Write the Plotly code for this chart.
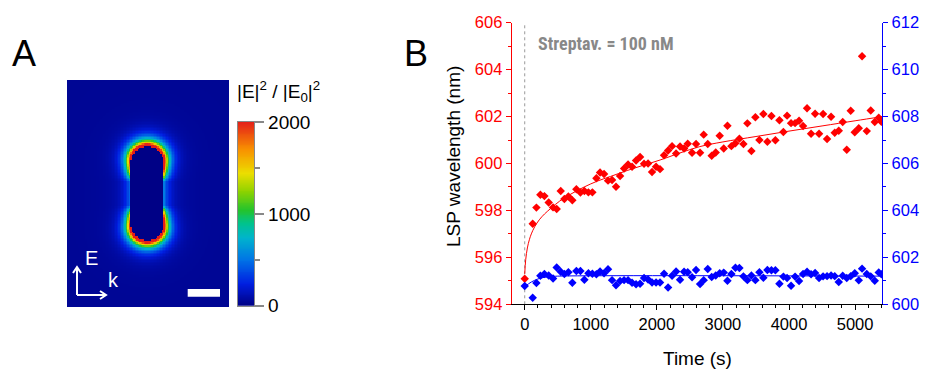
import numpy as np
import plotly.graph_objects as go

W, H = 931, 369
FONT = "Liberation Sans, Arial, sans-serif"

# ---------------- Panel B data ----------------
time_s = [0, 121, 177, 237, 298, 363, 429, 484, 545, 600,
          661, 721, 782, 843, 903, 964, 1024, 1085, 1140, 1201,
          1261, 1322, 1382, 1443, 1504, 1564, 1625, 1685, 1746, 1806,
          1867, 1927, 1988, 2048, 2109, 2170, 2230, 2291, 2351, 2412,
          2467, 2533, 2593, 2654, 2709, 2770, 2830, 2891, 2951, 3012,
          3068, 3128, 3189, 3249, 3310, 3370, 3431, 3491, 3552, 3612,
          3673, 3734, 3794, 3855, 3915, 3971, 4031, 4092, 4152, 4213,
          4273, 4334, 4395, 4455, 4516, 4576, 4637, 4692, 4753, 4813,
          4874, 4934, 4995, 5056, 5106, 5177, 5237, 5298, 5358, 5398]

red_lsp = [595.09, 597.43, 598.12, 598.67, 598.61, 598.34, 598.13, 598.06, 598.83, 598.49,
           598.59, 598.43, 598.90, 598.76, 598.83, 598.77, 598.77, 599.37, 599.62, 599.55,
           599.27, 599.30, 599.01, 599.47, 599.79, 599.96, 599.86, 600.13, 600.28, 599.99,
           600.00, 599.64, 599.86, 599.76, 600.35, 600.55, 600.74, 600.43, 600.72, 600.64,
           600.84, 600.46, 600.83, 600.46, 601.23, 600.83, 600.33, 600.47, 601.18, 600.64,
           601.61, 600.74, 600.86, 601.06, 600.83, 601.71, 600.53, 601.97, 601.00, 602.11,
           600.93, 602.02, 600.99, 601.84, 601.34, 602.04, 601.72, 601.72, 601.82, 601.60,
           602.35, 601.27, 602.12, 601.27, 602.11, 601.04, 601.99, 601.31, 601.40, 601.77,
           600.59, 602.25, 601.33, 601.50, 604.57, 601.38, 602.26, 601.77, 601.95, 601.78]

blue_lsp = [600.78, 600.28, 600.91, 601.22, 601.29, 601.23, 601.10, 601.57, 601.39, 601.29,
            601.37, 600.92, 601.42, 601.42, 601.05, 601.32, 601.30, 601.28, 601.40, 601.32,
            601.49, 601.03, 600.81, 600.99, 601.03, 601.03, 600.92, 600.85, 600.88, 601.12,
            601.06, 600.93, 600.93, 600.93, 601.30, 600.72, 601.22, 601.40, 601.05, 601.39,
            601.37, 601.15, 601.46, 600.86, 601.03, 601.50, 601.16, 601.23, 601.32, 601.35,
            601.00, 601.29, 601.56, 601.55, 601.19, 601.03, 601.23, 601.03, 601.37, 601.13,
            601.46, 601.45, 601.45, 600.88, 601.18, 601.12, 600.79, 601.18, 600.99, 601.29,
            601.39, 601.28, 601.33, 601.12, 601.19, 601.20, 601.23, 601.20, 600.95, 601.22,
            601.12, 601.20, 601.32, 601.02, 601.52, 601.29, 601.19, 601.00, 601.36, 601.28]

fit_time = [0, 15, 40, 70, 100, 150, 220, 300, 400, 530, 700, 900, 1100, 1300, 1550,
            1800, 2050, 2350, 2650, 3000, 3500, 4000, 4500, 5000, 5412]
red_fit = [595.3, 595.9, 596.4, 596.75, 597.0, 597.3, 597.6, 597.85, 598.1, 598.4, 598.7,
           599.0, 599.25, 599.45, 599.7, 599.93, 600.15, 600.45, 600.72, 600.92, 601.15,
           601.38, 601.6, 601.82, 602.0]
blue_fit_time = [0, 100, 200, 300, 400, 500, 5412]
blue_fit = [600.75, 600.95, 601.08, 601.15, 601.18, 601.2, 601.2]

time_ticks = [0, 1000, 2000, 3000, 4000, 5000]
left_ticks = [594, 596, 598, 600, 602, 604, 606]
right_ticks = [600, 602, 604, 606, 608, 610, 612]
cbar_ticks = [0, 1000, 2000]
cbar_minor = [500, 1500]

# ---------------- Panel A field-map model parameters (image pixels) ----------------
NX, NY, CELL = 108, 151, 1.5
ROD_CX, ROD_CY = 80.0, 113.3
ROD_R, ROD_HALF = 16.5, 30.5
ANG_HALF = 12.0
PEAK, SIDE, DECAY = 3000.0, 0.15, 5.5
HALO, HALO_DECAY = 55.0, 22.0
BACK, INSIDE = 45.0, 10.0
ZMAX = 2000

xs = (np.arange(NX) + 0.5) * CELL - ROD_CX
ys = (np.arange(NY) + 0.5) * CELL - ROD_CY
X, Y = np.meshgrid(xs, ys)
dy = Y - np.clip(Y, -ROD_HALF, ROD_HALF)
dist = np.hypot(X, dy) - ROD_R
dy2 = Y - np.clip(Y, -ANG_HALF, ANG_HALF)
cosang = np.abs(dy2) / np.maximum(np.hypot(X, dy2), 1e-6)
dpos = np.maximum(dist, 0)
field = BACK + HALO * np.exp(-dpos / HALO_DECAY) + PEAK * (SIDE + (1 - SIDE) * cosang) * np.exp(-dpos / DECAY)
field = np.where(dist < 0, INSIDE, field)
field = np.minimum(field, ZMAX)

cbar_levels = np.linspace(0, ZMAX, 201)

colorscale = [[0.0, "rgb(0,0,130)"], [0.12, "rgb(0,30,225)"], [0.25, "rgb(0,115,230)"],
              [0.37, "rgb(0,180,205)"], [0.45, "rgb(0,195,140)"], [0.52, "rgb(35,195,45)"],
              [0.62, "rgb(140,210,0)"], [0.72, "rgb(235,222,0)"], [0.85, "rgb(248,145,0)"],
              [1.0, "rgb(228,30,25)"]]


def px(x):
    return x / W


def py(y):
    return 1 - y / H


fig = go.Figure()

fig.add_trace(go.Heatmap(
    z=field, zmin=0, zmax=ZMAX, colorscale=colorscale, zsmooth=False,
    xaxis="x", yaxis="y", hoverinfo="skip", showscale=False))

# colour bar drawn as its own heatmap
fig.add_trace(go.Heatmap(
    z=cbar_levels.reshape(-1, 1), x=[0], y=cbar_levels, zmin=0, zmax=ZMAX,
    colorscale=colorscale, zsmooth=False, xaxis="x3", yaxis="y4",
    hoverinfo="skip", showscale=False))

fig.add_trace(go.Scatter(x=time_s, y=red_lsp, mode="markers", xaxis="x2", yaxis="y2",
                         marker=dict(symbol="diamond", size=6.5, color="#ff0000"), showlegend=False))
fig.add_trace(go.Scatter(x=fit_time, y=red_fit, mode="lines", xaxis="x2", yaxis="y2",
                         line=dict(color="#ff0000", width=1, shape="spline"), showlegend=False))
fig.add_trace(go.Scatter(x=time_s, y=blue_lsp, mode="markers", xaxis="x2", yaxis="y3",
                         marker=dict(symbol="diamond", size=6.5, color="#0000ff"), showlegend=False))
fig.add_trace(go.Scatter(x=blue_fit_time, y=blue_fit, mode="lines", xaxis="x2", yaxis="y3",
                         line=dict(color="#0000ff", width=1, shape="spline"), showlegend=False))

tickfont_b = dict(family=FONT, size=16.5)

fig.update_layout(
    width=W, height=H, margin=dict(l=0, r=0, t=0, b=0, autoexpand=False),
    paper_bgcolor="white", plot_bgcolor="white", showlegend=False,
    xaxis=dict(domain=[px(67), px(229)], range=[-0.5, NX - 0.5], visible=False, fixedrange=True),
    yaxis=dict(domain=[py(307), py(80)], range=[NY - 0.5, -0.5], visible=False, fixedrange=True),
    xaxis3=dict(domain=[px(238), px(254.3)], anchor="y4", range=[-0.5, 0.5], showticklabels=False,
                ticks="", showgrid=False, zeroline=False, showline=True, mirror=True,
                linecolor="#888", linewidth=1, automargin=False),
    yaxis4=dict(domain=[py(305.7), py(122)], anchor="x3", side="right", range=[0, ZMAX],
                tickvals=cbar_ticks, ticks="outside", ticklen=9, tickcolor="#888", tickwidth=1.5,
                showgrid=False, zeroline=False, showline=True, mirror=True, linecolor="#888",
                linewidth=1, automargin=False,
                tickfont=dict(family=FONT, size=19, color="black"),
                minor=dict(tickvals=cbar_minor, ticks="outside", ticklen=5, tickcolor="#888", tickwidth=1.5)),
    xaxis2=dict(domain=[px(511.7), px(882.3)], anchor="y2", range=[-197, 5412],
                tickvals=time_ticks, ticks="outside", ticklen=5, tickcolor="black", automargin=False,
                showline=True, linecolor="black", linewidth=1, showgrid=False, zeroline=False,
                tickfont=dict(color="black", **tickfont_b),
                minor=dict(dtick=200, tick0=0, ticks="outside", ticklen=3, tickcolor="black")),
    yaxis2=dict(domain=[py(304.3), py(22.7)], anchor="x2", range=[594, 606], automargin=False,
                tickvals=left_ticks, ticks="outside", ticklen=5, tickcolor="#ff0000",
                showline=True, linecolor="#ff0000", linewidth=1, showgrid=False, zeroline=False,
                tickfont=dict(color="#ff0000", **tickfont_b),
                minor=dict(dtick=1, ticks="outside", ticklen=3, tickcolor="#ff0000")),
    yaxis3=dict(overlaying="y2", anchor="x2", side="right", range=[600, 612], automargin=False,
                tickvals=right_ticks, ticks="outside", ticklen=5, tickcolor="#0000ff",
                showline=True, linecolor="#0000ff", linewidth=1, showgrid=False, zeroline=False,
                tickfont=dict(color="#0000ff", **tickfont_b),
                minor=dict(dtick=1, ticks="outside", ticklen=3, tickcolor="#0000ff")),
)

shapes = []
# dotted line at t = 0
shapes.append(dict(type="line", xref="x2", yref="paper", x0=0, x1=0, y0=py(304.3), y1=py(22.7),
                   line=dict(color="#999999", width=1, dash="dot"), layer="below"))
white = dict(color="white", width=2)
# E / k arrows
shapes.append(dict(type="line", xref="paper", yref="paper", x0=px(77), y0=py(295), x1=px(77), y1=py(268), line=white))
shapes.append(dict(type="path", xref="paper", yref="paper",
                   path=f"M {px(73)},{py(273)} L {px(77)},{py(267)} L {px(81)},{py(273)}", line=white))
shapes.append(dict(type="line", xref="paper", yref="paper", x0=px(77), y0=py(295), x1=px(106), y1=py(295), line=white))
shapes.append(dict(type="path", xref="paper", yref="paper",
                   path=f"M {px(100)},{py(291)} L {px(106)},{py(295)} L {px(100)},{py(299)}", line=white))
# scale bar
shapes.append(dict(type="rect", xref="paper", yref="paper", x0=px(187.7), x1=px(220), y0=py(296.7), y1=py(289),
                   fillcolor="white", line=dict(width=0)))
fig.update_layout(shapes=shapes)

ann = []
ann.append(dict(text="A", x=px(10), y=py(53), xanchor="left", yanchor="middle",
                font=dict(family=FONT, size=36, color="black")))
ann.append(dict(text="B", x=px(402), y=py(53), xanchor="left", yanchor="middle",
                font=dict(family=FONT, size=36, color="black")))
ann.append(dict(text="|E|<sup>2</sup> / |E<sub>0</sub>|<sup>2</sup>", x=px(278), y=py(91),
                xanchor="center", yanchor="middle", font=dict(family=FONT, size=19, color="black")))
ann.append(dict(text="E", x=px(83), y=py(258), xanchor="left", yanchor="middle",
                font=dict(family=FONT, size=20, color="white")))
ann.append(dict(text="k", x=px(106), y=py(280), xanchor="left", yanchor="middle",
                font=dict(family=FONT, size=20, color="white")))
ann.append(dict(text="<b>Streptav. = 100 nM</b>", x=px(536), y=py(44), xanchor="left", yanchor="middle",
                font=dict(family="Liberation Sans Narrow, Roboto Condensed, " + FONT, size=18, color="#888888")))
ann.append(dict(text="LSP wavelength (nm)", x=px(453), y=py(157), xanchor="center", yanchor="middle",
                textangle=-90, font=dict(family=FONT, size=19, color="black")))
ann.append(dict(text="Time (s)", x=px(697), y=py(346), xanchor="center", yanchor="top",
                font=dict(family=FONT, size=19, color="black")))
for a in ann:
    a.update(xref="paper", yref="paper", showarrow=False)
fig.update_layout(annotations=ann)

fig.write_html("out.html", config={"displayModeBar": False},
               post_script="document.body.style.margin='0';document.body.style.overflow='hidden';")
